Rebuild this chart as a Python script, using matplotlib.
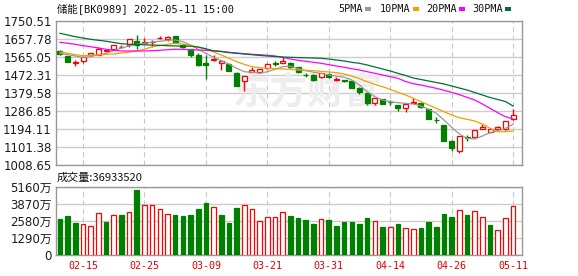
import matplotlib
matplotlib.use("Agg")
import matplotlib.pyplot as plt
from matplotlib.patches import Rectangle
import numpy as np

# ---------------- data ----------------
dates = ["02-10", "02-11", "02-14", "02-15", "02-16", "02-17", "02-18", "02-21", "02-22", "02-23",
         "02-24", "02-25", "02-28", "03-01", "03-02", "03-03", "03-04", "03-07", "03-08", "03-09",
         "03-10", "03-11", "03-14", "03-15", "03-16", "03-17", "03-18", "03-21", "03-22", "03-23",
         "03-24", "03-25", "03-28", "03-29", "03-30", "03-31", "04-01", "04-06", "04-07", "04-08",
         "04-11", "04-12", "04-13", "04-14", "04-15", "04-18", "04-19", "04-20", "04-21", "04-22",
         "04-25", "04-26", "04-27", "04-28", "04-29", "05-05", "05-06", "05-09", "05-10", "05-11"]

open_ = [1597, 1570, 1535, 1546, 1574, 1577, 1598, 1608, 1617, 1625,
         1647, 1637, 1641, 1662, 1657, 1673, 1628, 1605, 1577, 1536,
         1552, 1536, 1529, 1481, 1443, 1488, 1488, 1508, 1536, 1536,
         1536, 1515, 1472, 1474, 1460, 1477, 1449, 1446, 1443, 1407,
         1378, 1330, 1347, 1334, 1318, 1301, 1327, 1326, 1296, 1242,
         1213, 1131, 1082, 1153, 1155, 1193, 1179, 1193, 1193, 1244]
high = [1601, 1571, 1550, 1567, 1588, 1618, 1605, 1626, 1628, 1657,
        1678, 1661, 1652, 1675, 1672, 1675, 1634, 1607, 1584, 1574,
        1577, 1545, 1531, 1487, 1467, 1513, 1505, 1535, 1543, 1563,
        1537, 1516, 1484, 1476, 1481, 1482, 1460, 1447, 1444, 1412,
        1384, 1354, 1348, 1343, 1318, 1323, 1354, 1327, 1297, 1254,
        1214, 1140, 1158, 1163, 1189, 1220, 1197, 1207, 1235, 1299]
low = [1575, 1537, 1520, 1536, 1570, 1577, 1594, 1606, 1612, 1618,
       1605, 1636, 1618, 1656, 1645, 1637, 1610, 1563, 1520, 1450,
       1546, 1498, 1492, 1417, 1391, 1487, 1482, 1505, 1519, 1535,
       1510, 1485, 1460, 1440, 1459, 1457, 1440, 1434, 1405, 1374,
       1319, 1318, 1321, 1319, 1288, 1283, 1326, 1300, 1246, 1227,
       1133, 1079, 1072, 1134, 1154, 1192, 1174, 1190, 1190, 1243]
close = [1580, 1539, 1537, 1566, 1584, 1605, 1600, 1625, 1619, 1656,
         1625, 1640, 1643, 1665, 1667, 1639, 1618, 1574, 1525, 1522,
         1554, 1543, 1494, 1417, 1467, 1498, 1505, 1527, 1529, 1546,
         1512, 1486, 1470, 1446, 1481, 1463, 1451, 1440, 1407, 1385,
         1330, 1354, 1323, 1332, 1302, 1323, 1333, 1306, 1247, 1239,
         1134, 1096, 1158, 1150, 1189, 1206, 1193, 1206, 1234, 1265]

# volume in 万
volume = [2743, 2997, 2464, 2362, 2210, 3177, 2540, 3048, 3048, 3252,
          4900, 3810, 3810, 3505, 3100, 3048, 2972, 3048, 3505, 3962,
          3658, 3048, 2438, 3581, 3785, 3505, 2566, 2896, 2896, 3252,
          2972, 2819, 2667, 2362, 2743, 2667, 2210, 2515, 2515, 2362,
          2819, 2591, 2134, 2134, 2362, 2057, 1981, 2057, 2515, 2134,
          3124, 2896, 3429, 3048, 3353, 2896, 2286, 1905, 2819, 3693]

ma5 = [1584.1, 1576.9, 1570.2, 1563.5, 1566.6, 1576.9, 1584.1, 1597.5, 1611.4, 1621.7,
       1630.5, 1635.6, 1642.3, 1645.9, 1651.1, 1652.6, 1643.9, 1626.9, 1604.7, 1584.1,
       1563.5, 1546.0, 1529.0, 1506.8, 1489.3, 1486.2, 1481.1, 1489.3, 1501.7, 1515.1,
       1517.6, 1504.8, 1494.5, 1486.2, 1481.1, 1472.3, 1467.1, 1460.4, 1446.5, 1420.8,
       1386.3, 1360.5, 1343.5, 1334.7, 1329.6, 1326.5, 1322.9, 1312.6, 1295.6, 1275.1,
       1240.5, 1202.9, 1168.5, 1146.2, 1142.6, 1158.2, 1175.1, 1185.4, 1197.7, 1218.5]
ma10 = [1590.8, 1584.1, 1576.9, 1571.7, 1573.8, 1575.3, 1579.0, 1580.5, 1585.6, 1589.3,
        1597.5, 1604.7, 1618.1, 1623.3, 1630.5, 1635.6, 1632.0, 1625.3, 1615.0, 1604.7,
        1590.8, 1575.3, 1558.3, 1540.8, 1527.4, 1515.1, 1509.9, 1506.8, 1504.8, 1503.2,
        1501.7, 1498.1, 1496.5, 1494.5, 1491.4, 1487.8, 1484.2, 1477.5, 1467.1, 1453.2,
        1437.8, 1424.4, 1412.0, 1398.6, 1383.2, 1369.3, 1352.3, 1334.7, 1317.7, 1300.7,
        1283.2, 1266.2, 1252.3, 1244.1, 1235.3, 1219.9, 1197.7, 1180.2, 1180.2, 1183.8]
ma20 = [1640.8, 1635.6, 1630.5, 1623.3, 1618.1, 1611.4, 1604.7, 1599.5, 1595.9, 1595.9,
        1595.9, 1595.9, 1597.5, 1599.5, 1602.6, 1604.7, 1604.7, 1602.6, 1601.1, 1599.5,
        1597.5, 1594.4, 1589.3, 1585.6, 1582.0, 1578.9, 1576.9, 1573.8, 1570.2, 1563.5,
        1554.7, 1548.0, 1542.9, 1537.7, 1532.6, 1525.4, 1518.7, 1512.0, 1504.8, 1498.1,
        1489.3, 1481.1, 1472.3, 1463.5, 1455.3, 1438.8, 1427.5, 1420.8, 1412.0, 1403.8,
        1393.5, 1383.2, 1370.8, 1357.4, 1343.5, 1322.9, 1300.7, 1278.1, 1257.5, 1245.6]
ma30 = [1687.1, 1678.4, 1669.6, 1662.9, 1656.2, 1651.1, 1646.4, 1639.7, 1633.6, 1630.5,
        1629.4, 1627.9, 1626.9, 1625.3, 1623.3, 1621.7, 1621.7, 1620.7, 1616.6, 1607.3,
        1597.0, 1592.9, 1587.7, 1584.1, 1580.5, 1576.9, 1573.3, 1570.2, 1567.6, 1565.0,
        1563.5, 1562.0, 1560.9, 1559.9, 1558.3, 1554.7, 1549.6, 1544.4, 1537.7, 1532.6,
        1523.8, 1513.5, 1503.2, 1492.9, 1481.1, 1469.7, 1456.8, 1449.1, 1441.4, 1433.6,
        1425.9, 1415.6, 1405.3, 1395.0, 1382.1, 1369.3, 1356.4, 1346.1, 1335.8, 1312.6]

price_ticks = [1008.65, 1101.38, 1194.11, 1286.85, 1379.58, 1472.31, 1565.05, 1657.78, 1750.51]
vol_ticks = [0, 1290, 2580, 3870, 5160]
vol_tick_labels = ["0", "1290万", "2580万", "3870万", "5160万"]
date_ticks = ["02-15", "02-25", "03-09", "03-21", "03-31", "04-14", "04-26", "05-11"]
title = "储能[BK0989] 2022-05-11 15:00"
last_volume = "36933520"
ma_labels = ["5PMA", "10PMA", "20PMA", "30PMA"]

# ---------------- style ----------------
RED = "#ff0000"
GREEN = "#008000"
MA_COLORS = ["#999999", "#f0a000", "#ff00ff", "#006f35"]
plt.rcParams["lines.scale_dashes"] = False

W, H = 578, 276
fig = plt.figure(figsize=(W / 100, H / 100), dpi=100)
fig.patch.set_facecolor("white")

ax = fig.add_axes([56 / W, 1 - 165 / H, 466 / W, 144 / H])
axv = fig.add_axes([56 / W, 1 - 255 / H, 466 / W, 68 / H])

o = np.array(open_, float)
h = np.array(high, float)
l = np.array(low, float)
c = np.array(close, float)
v = np.array(volume, float)
x = np.arange(len(c))
up = c >= o
prev_c = np.r_[o[0], c[:-1]]
vup = c >= prev_c

xlim = (-0.52, 60.16)
for a in (ax, axv):
    a.set_xlim(*xlim)
    for s in a.spines.values():
        s.set_color("#999999")
        s.set_linewidth(1.0)
    a.tick_params(length=0, colors="#222222")
    tick_idx = [dates.index(d) for d in date_ticks]
    a.set_xticks(tick_idx)
    a.xaxis.grid(True, color="#c8c8c8", lw=0.8, ls=(0, (3.6, 2.4)))
    a.yaxis.grid(True, color="#cccccc", lw=1.0, ls="-")
    a.set_axisbelow(True)

# price panel
ax.set_ylim(price_ticks[0], price_ticks[-1])
ax.set_yticks(price_ticks)
ax.set_yticklabels([f"{t:.2f}" for t in price_ticks], fontsize=8.5,
                   family="DejaVu Sans", color="#1a1a2a")
ax.tick_params(axis="y", pad=3)
ax.set_xticklabels([])

# watermark (inside the price axes, behind the candles)
ax.text((308 - 56) / 466, (165 - 93) / 144, "东方财富", transform=ax.transAxes,
        family=["Noto Sans CJK SC"], fontweight="bold",
        fontsize=27, color="#ededed", ha="center", va="center", zorder=1)

# wicks
ax.vlines(x, l, h, colors=np.where(up, RED, GREEN), lw=1.0, zorder=3)
# bodies
bw = 0.65
body_h = np.abs(c - o)
body_h = np.maximum(body_h, 1.0)
body_b = np.minimum(o, c)
ax.bar(x[up], body_h[up], bottom=body_b[up], width=bw, facecolor="white",
       edgecolor=RED, linewidth=0.9, zorder=4)
ax.bar(x[~up], body_h[~up], bottom=body_b[~up], width=bw, facecolor=GREEN,
       edgecolor=GREEN, linewidth=0.9, zorder=4)

for ser, col in zip([ma5, ma10, ma20, ma30], MA_COLORS):
    ax.plot(x, ser, color=col, lw=0.9, zorder=5)

# volume panel
axv.set_ylim(0, vol_ticks[-1])
axv.set_yticks(vol_ticks)
axv.set_yticklabels(vol_tick_labels, fontsize=8.5, family=["DejaVu Sans", "Noto Sans CJK SC"],
                    color="#1a1a2a")
axv.tick_params(axis="y", pad=3)
axv.set_xticklabels(date_ticks, fontsize=7.2, family="DejaVu Sans Mono", color="#e00000")
axv.tick_params(axis="x", pad=4)
vw = 0.6
axv.bar(x[vup], v[vup], width=vw, facecolor="white", edgecolor=RED, linewidth=0.9, zorder=3)
axv.bar(x[~vup], v[~vup], width=vw, facecolor=GREEN, edgecolor=GREEN, linewidth=0.9, zorder=3)

# texts
fig.text(57 / W, 1 - 8.5 / H, title, family=["DejaVu Sans Mono", "Noto Sans CJK SC"],
         fontsize=7.5, va="center", ha="left", color="#111111")
fig.text(57 / W, 1 - 178 / H, "成交量:" + last_volume, family=["Noto Sans CJK SC"],
         fontsize=8, va="center", ha="left", color="#111111")

leg_x = [338, 380, 426, 472]
leg_sq = [365, 413, 459, 505]
for lab, lx, sx, col in zip(ma_labels, leg_x, leg_sq, MA_COLORS):
    fig.text(lx / W, 1 - 8.5 / H, lab, family="DejaVu Sans Mono", fontsize=7.3,
             va="center", ha="left", color="#111111")
    fig.patches.append(Rectangle((sx / W, 1 - 10.5 / H), 6 / W, 4 / H, transform=fig.transFigure,
                                 facecolor=col, edgecolor="none", figure=fig))

fig.savefig("out.png", dpi=100)
